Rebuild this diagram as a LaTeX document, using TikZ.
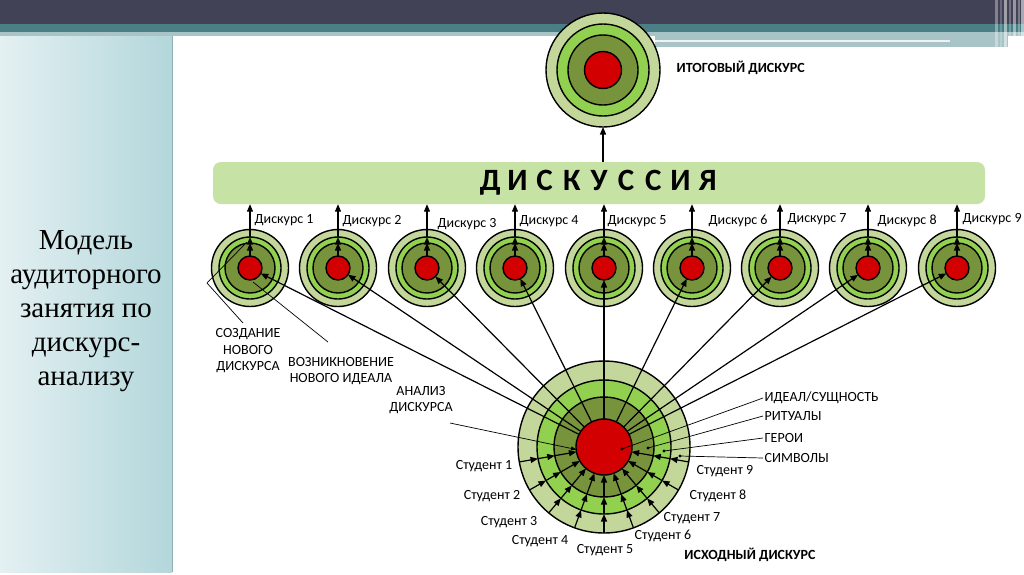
\documentclass[tikz,border=0pt]{standalone}
\usepackage{fontspec}
\setmainfont{Carlito}
\newfontfamily\serifru{Liberation Serif}
\usetikzlibrary{arrows.meta,calc}
\definecolor{cLight}{HTML}{C4D79B}
\definecolor{cGreen}{HTML}{92D050}
\definecolor{cOlive}{HTML}{77933C}
\definecolor{cRed}{HTML}{D20000}
\definecolor{cBar}{HTML}{C6E2A4}
\definecolor{cDark}{HTML}{424256}
\definecolor{cTeal}{HTML}{4A8085}
\definecolor{cPale}{HTML}{A8C4C6}
\definecolor{cPanelL}{HTML}{E4F0F2}
\definecolor{cPanelR}{HTML}{B3D7DB}
\definecolor{cPanelB}{HTML}{8DB1B5}
\tikzset{
  ring/.style={circle, draw=black, line width=1.4pt, inner sep=0pt, outer sep=0pt},
  conn/.style={line width=1.2pt, -{Triangle[length=7.5pt,width=6pt]}},
  thinl/.style={line width=0.7pt},
  thinarr/.style={line width=0.7pt, -{Triangle[length=5pt,width=4pt]}},
  lab/.style={font=\fontsize{14}{16.5}\selectfont, inner sep=1.5pt, align=center},
  blab/.style={font=\bfseries\fontsize{14}{16.5}\selectfont, inner sep=1.5pt},
}
\newcommand\drawtarget[6]{%
  \node[ring, fill=cLight, minimum size=#3] (#1-o) at (#2) {};
  \node[ring, fill=cGreen, minimum size=#4] (#1-g) at (#2) {};
  \node[ring, fill=cOlive, minimum size=#5] (#1-v) at (#2) {};
  \node[ring, fill=cRed, minimum size=#6] (#1) at (#2) {};
}
\newcommand\lsp[1]{\makebox[27.2pt]{#1}}
\begin{document}
\begin{tikzpicture}[x=1pt,y=-1pt]
\useasboundingbox (0,0) rectangle (1024,574);
\fill[white] (0,0) rectangle (1024,574);
% header
\fill[cDark] (0,0) rectangle (1024,24);
\fill[cTeal] (0,24) rectangle (1024,32);
\fill[cPale] (0,32) rectangle (1024,36);
\fill[cPale] (655,32) rectangle (1008,47);
\fill[white, opacity=0.8] (655,40) rectangle (950,42);
\foreach \xa/\w/\op in {995/3/0.35,1000/2/0.2,1004/3/0.5,1009/2/0.25,1013/3/0.45,1018/2/0.3,1021/3/0.55}
  \fill[white, opacity=\op] (\xa,0) rectangle ++(\w,49);
% left panel
\shade[left color=cPanelL, right color=cPanelR] (0,36) rectangle (172,572);
\draw[cPanelB, line width=1pt] (172,36) -- (172,572);
\node[font=\serifru\fontsize{29}{34}\selectfont, align=center, inner sep=0pt] (title) at (86,311)
  {Модель\\аудиторного\\занятия по\\дискурс-\\анализу};
% bar
\node[fill=cBar, rounded corners=8pt, minimum width=772pt, minimum height=42pt, inner sep=0pt] (bar) at (599,183)
  {\bfseries\fontsize{31}{34}\selectfont\lsp{Д}\lsp{И}\lsp{С}\lsp{К}\lsp{У}\lsp{С}\lsp{С}\lsp{И}\lsp{Я}};
% targets
\drawtarget{T}{603,70}{114pt}{92pt}{70pt}{37pt}
\foreach \i/\xx in {1/250,2/338,3/427,4/515,5/604,6/692,7/780,8/868,9/957}
  {\drawtarget{t\i}{\xx,268}{77pt}{62pt}{50pt}{24pt}}
\drawtarget{B}{604,447}{172pt}{134pt}{100pt}{56pt}
% connectors: big target to small targets
\foreach \i in {1,...,9} \draw[conn] (B) -- (t\i);
% small targets up to bar
\foreach \i in {1,...,9} {
  \draw[conn] (t\i.north) -- (t\i-v.north);
  \draw[conn] (t\i-v.north) -- (t\i-g.north);
  \draw[conn] (t\i-g.north) -- (t\i |- bar.south);
}
\draw[conn] (bar.north -| T) -- (T-o.south);
% student arrows
\foreach \a in {190,210,...,350} {
  \draw[conn] (B-o.\a) -- (B-g.\a);
  \draw[conn] (B-g.\a) -- (B-v.\a);
  \draw[conn] (B-v.\a) -- (B.\a);
}
% Discourse labels
\foreach \i/\xx/\yy in {1/253/220,2/341/221,3/436/224,4/518/221,5/606/221,6/707/221,7/786/219,8/876/221,9/961/219}
  \node[lab, anchor=west] (dk\i) at (\xx,\yy) {Дискурс \i};
\node[blab, anchor=west] (itog) at (675,68) {ИТОГОВЫЙ ДИСКУРС};
\node[blab] (ishod) at (750,555) {ИСХОДНЫЙ ДИСКУРС};
% student labels
\node[lab, anchor=east] (s1) at (514,466) {Студент 1};
\node[lab, anchor=east] (s2) at (522,496) {Студент 2};
\node[lab, anchor=east] (s3) at (539,522) {Студент 3};
\node[lab, anchor=east] (s4) at (570,541) {Студент 4};
\node[lab] (s5) at (605,550) {Студент 5};
\node[lab, anchor=west] (s6) at (633,536) {Студент 6};
\node[lab, anchor=west] (s7) at (662,518) {Студент 7};
\node[lab, anchor=west] (s8) at (688,496) {Студент 8};
\node[lab, anchor=west] (s9) at (695,471) {Студент 9};
% right labels with dots
\node[lab, anchor=west] (ideal) at (763,398) {ИДЕАЛ/СУЩНОСТЬ};
\node[lab, anchor=west] (rit) at (763,416) {РИТУАЛЫ};
\node[lab, anchor=west] (geroi) at (763,438) {ГЕРОИ};
\node[lab, anchor=west] (simv) at (763,458) {СИМВОЛЫ};
\coordinate (d1) at (622,449);
\coordinate (d2) at (648,448);
\coordinate (d3) at (664,451);
\coordinate (d4) at (680,456);
\draw[thinl] (ideal.west) -- (d1);
\draw[thinl] (rit.west) -- (d2);
\draw[thinl] (geroi.west) -- (d3);
\draw[thinl] (simv.west) -- (d4);
\foreach \d in {d1,d2,d3,d4} \fill (\d) circle (1.7pt);
% left labels
\node[lab] (sozd) at (248,351) {СОЗДАНИЕ\\НОВОГО\\ДИСКУРСА};
\node[lab] (vozn) at (341,371) {ВОЗНИКНОВЕНИЕ\\НОВОГО ИДЕАЛА};
\node[lab] (anal) at (421,400) {АНАЛИЗ\\ДИСКУРСА};
\coordinate (sz0) at (243,323);
\coordinate (sz1) at (207,283);
\coordinate (sz2) at (247,242);
\draw[thinl] (sz0) -- (sz1) -- (sz2);
\coordinate (vz0) at (328,342);
\coordinate (vz1) at (253,282);
\draw[thinl] (vz0) -- (vz1);
\coordinate (an0) at (450,423);
\draw[thinarr] (an0) -- (B.185);
\end{tikzpicture}
\end{document}
